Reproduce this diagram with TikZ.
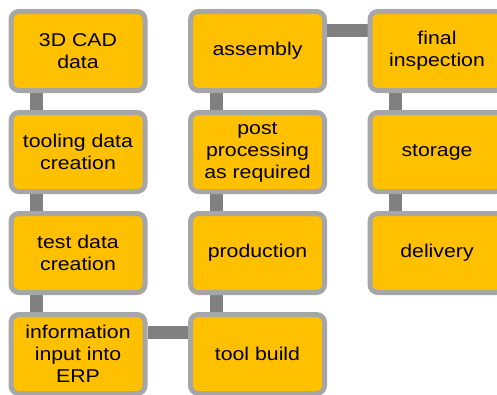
\documentclass[tikz,border=0pt]{standalone}
\usepackage{fontspec}
\setmainfont{Liberation Sans}[FakeStretch=1.15]
\usetikzlibrary{backgrounds}
\definecolor{boxfill}{HTML}{FFC000}
\definecolor{boxline}{HTML}{A6A6A6}
\definecolor{connline}{HTML}{808080}
\tikzset{
  stepbox/.style={draw=boxline, line width=5pt, fill=boxfill, rounded corners=8pt,
    minimum width=134pt, minimum height=79pt, inner sep=0pt, align=center,
    font=\fontsize{18.5}{22}\selectfont, text=black},
  conn/.style={draw=connline, line width=13pt}
}
\begin{document}
\begin{tikzpicture}[x=1pt,y=-1pt]
\useasboundingbox (0,0) rectangle (497,394);
\node[stepbox] (a1) at (78,51) {3D CAD\\data};
\node[stepbox] (a2) at (78,152) {tooling data\\creation};
\node[stepbox] (a3) at (78,253) {test data\\creation};
\node[stepbox] (a4) at (78,354) {information\\input into\\ERP};
\node[stepbox] (b4) at (257.5,354) {tool build};
\node[stepbox] (b3) at (257.5,253) {production};
\node[stepbox] (b2) at (257.5,152) {post\\processing\\as required};
\node[stepbox] (b1) at (257.5,51) {assembly};
\node[stepbox] (c1) at (437,51) {final\\inspection};
\node[stepbox] (c2) at (437,152) {storage};
\node[stepbox] (c3) at (437,253) {delivery};
\begin{pgfonlayer}{background}
\draw[conn] ([xshift=28pt]a1.south west) -- ([xshift=28pt]a2.north west);
\draw[conn] ([xshift=28pt]a2.south west) -- ([xshift=28pt]a3.north west);
\draw[conn] ([xshift=28pt]a3.south west) -- ([xshift=28pt]a4.north west);
\draw[conn] ([yshift=-20pt]a4.north east) -- ([yshift=-20pt]b4.north west);
\draw[conn] ([xshift=28pt]b4.north west) -- ([xshift=28pt]b3.south west);
\draw[conn] ([xshift=28pt]b3.north west) -- ([xshift=28pt]b2.south west);
\draw[conn] ([xshift=28pt]b2.north west) -- ([xshift=28pt]b1.south west);
\draw[conn] ([yshift=-21pt]b1.north east) -- ([yshift=-21pt]c1.north west);
\draw[conn] ([xshift=28pt]c1.south west) -- ([xshift=28pt]c2.north west);
\draw[conn] ([xshift=28pt]c2.south west) -- ([xshift=28pt]c3.north west);
\end{pgfonlayer}
\end{tikzpicture}
\end{document}
